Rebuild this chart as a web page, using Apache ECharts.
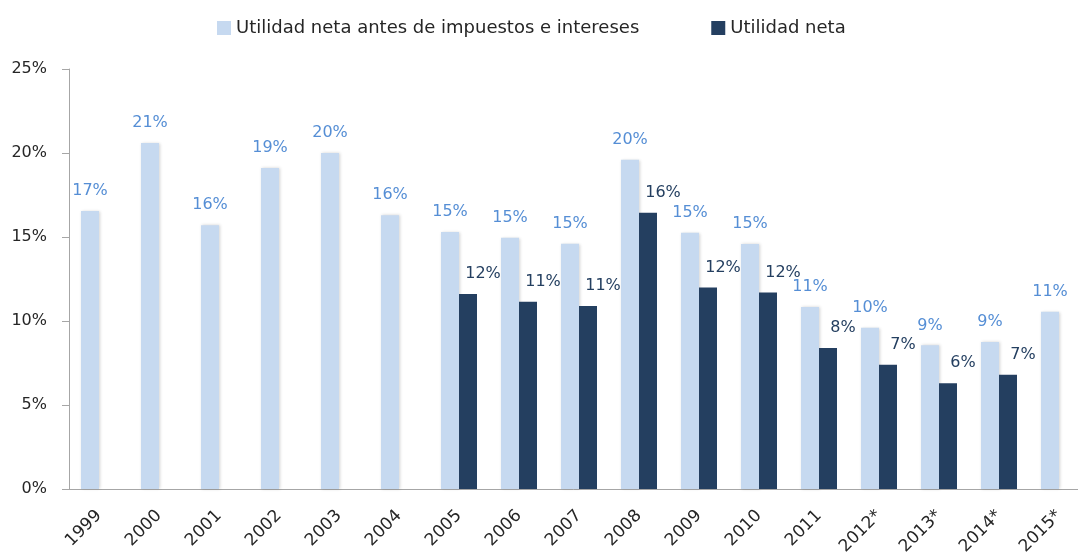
<!DOCTYPE html>
<html>
<head>
<meta charset="utf-8">
<script src="https://cdn.jsdelivr.net/npm/echarts@6/dist/echarts.min.js"></script>
<style>
html,body{margin:0;padding:0;background:#fff;}
#chart{width:1078px;height:553px;}
</style>
</head>
<body>
<div id="chart"></div>
<script>
var categories = ['1999','2000','2001','2002','2003','2004','2005','2006','2007','2008','2009','2010','2011','2012*','2013*','2014*','2015*'];
var ebitMargin = [16.55, 20.6, 15.7, 19.1, 20.0, 16.3, 15.3, 14.96, 14.6, 19.6, 15.25, 14.58, 10.83, 9.6, 8.55, 8.75, 10.55];
var netMargin = [null, null, null, null, null, null, 11.6, 11.15, 10.9, 16.45, 12.0, 11.7, 8.4, 7.4, 6.3, 6.8, null];
var yTicks = [0, 5, 10, 15, 20, 25];
var seriesNames = ['Utilidad neta antes de impuestos e intereses', 'Utilidad neta'];

var FONT = 'DejaVu Sans';
var chart = echarts.init(document.getElementById('chart'), null, {renderer: 'canvas'});
function pct(p) { return p.value == null ? '' : Math.round(p.value) + '%'; }
chart.setOption({
  animation: false,
  backgroundColor: '#ffffff',
  textStyle: {fontFamily: FONT},
  legend: {
    left: 212,
    top: 14,
    itemWidth: 14,
    itemHeight: 14,
    itemGap: 72,
    icon: 'rect',
    textStyle: {fontFamily: FONT, fontSize: 18, color: '#262626'},
    data: seriesNames
  },
  grid: {left: 69, right: -11, top: 69, bottom: 64, containLabel: false, outerBoundsMode: 'none'},
  xAxis: {
    type: 'category',
    data: categories,
    axisLine: {lineStyle: {color: '#A6A6A6', width: 1}},
    axisTick: {length: 7, lineStyle: {color: '#A6A6A6'}},
    axisLabel: {rotate: 45, margin: 24, fontFamily: FONT, fontSize: 17, color: '#262626', interval: 0}
  },
  yAxis: {
    type: 'value',
    min: yTicks[0],
    max: yTicks[yTicks.length - 1],
    interval: yTicks[1] - yTicks[0],
    splitLine: {show: false},
    axisLine: {show: true, lineStyle: {color: '#A6A6A6', width: 1}},
    axisTick: {show: true, length: 7, lineStyle: {color: '#A6A6A6'}},
    axisLabel: {formatter: '{value}%', margin: 22, fontFamily: FONT, fontSize: 16, color: '#262626'}
  },
  series: [
    {
      name: seriesNames[0],
      type: 'bar',
      data: ebitMargin,
      barWidth: 18,
      barGap: '0%',
      itemStyle: {color: '#C6D9F0', shadowColor: 'rgba(0,0,0,0.18)', shadowBlur: 3, shadowOffsetX: 1},
      label: {show: true, position: 'top', distance: 12, formatter: pct, fontFamily: FONT, fontSize: 16, color: '#558ED5'}
    },
    {
      name: seriesNames[1],
      type: 'bar',
      data: netMargin,
      barWidth: 18,
      barGap: '0%',
      itemStyle: {color: '#243F60'},
      label: {show: true, position: 'top', distance: 12, offset: [15, 0], formatter: pct, fontFamily: FONT, fontSize: 16, color: '#243F60'}
    }
  ]
});
</script>
</body>
</html>
